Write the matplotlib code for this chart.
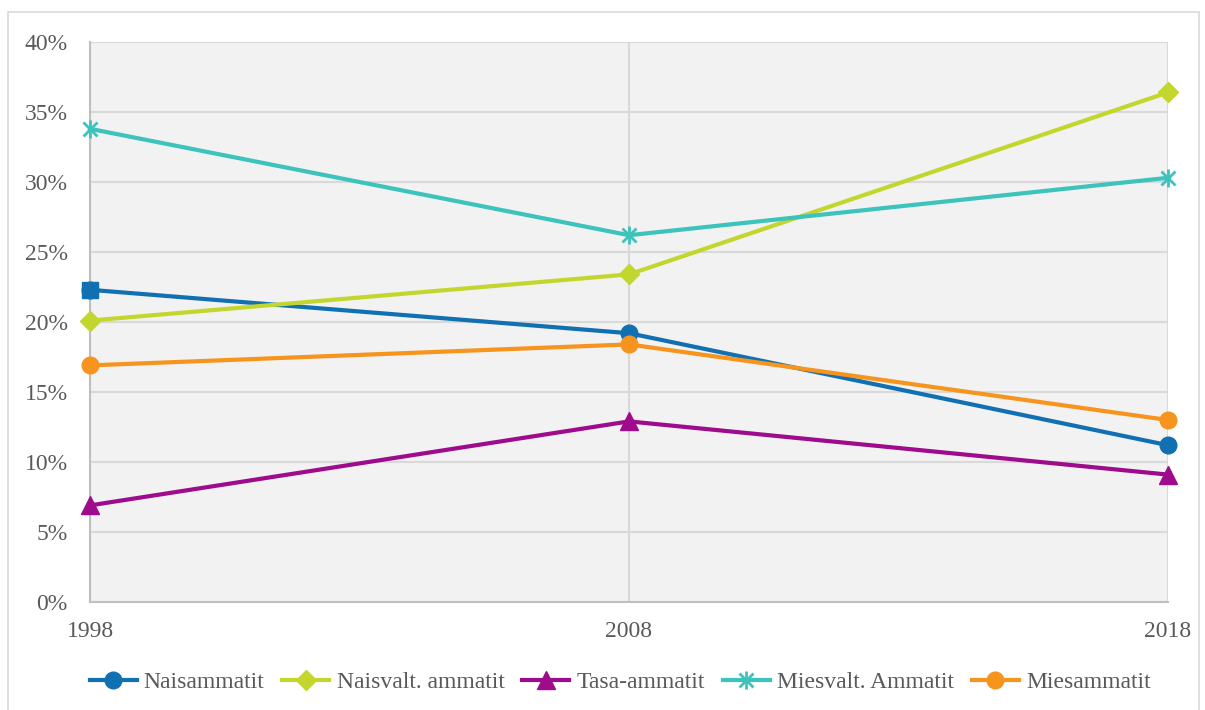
import matplotlib
matplotlib.use("Agg")
import matplotlib.pyplot as plt
from matplotlib.patches import Rectangle
from matplotlib.ticker import FuncFormatter

years = [1998, 2008, 2018]
naisammatit = [22.3, 19.2, 11.2]
naisvalt = [20.1, 23.4, 36.4]
tasa = [6.9, 12.9, 9.1]
miesvalt = [33.8, 26.2, 30.3]
miesammatit = [16.9, 18.4, 13.0]

series = [
    ("Naisammatit", naisammatit, "#1170b2", "o", 12),
    ("Naisvalt. ammatit", naisvalt, "#c3d62e", "D", 10),
    ("Tasa-ammatit", tasa, "#9e0b8d", "^", 13),
    ("Miesvalt. Ammatit", miesvalt, "#3cc3bc", "x", 10),
    ("Miesammatit", miesammatit, "#f7941e", "o", 12),
]

plt.rcParams['font.family'] = ['Liberation Serif', 'DejaVu Serif']
fig = plt.figure(figsize=(12.05, 7.1), dpi=100)
ax = fig.add_axes([90/1205, 1-602/710, (1168-90)/1205, (602-42)/710])
ax.set_facecolor("#f2f2f2")

fig.patches.append(Rectangle((8/1205, -0.01), (1199-8)/1205, 1-12/710+0.01,
                             transform=fig.transFigure, fill=False,
                             edgecolor="#d9d9d9", linewidth=1.2, zorder=0))

handles = []
for name, vals, color, marker, ms in series:
    mew = 2 if marker == "x" else 1
    h, = ax.plot(years, vals, color=color, linewidth=3, marker=marker,
                 markersize=ms, markeredgewidth=mew, markeredgecolor=color,
                 markerfacecolor=color, label=name, zorder=3, clip_on=False)
    if marker == "x":
        v, = ax.plot(years, vals, linestyle="none", marker="|", markersize=13,
                     markeredgewidth=2, color=color, zorder=3, clip_on=False)
        handles.append((h, v))
    else:
        handles.append(h)

# First Naisammatit point drawn as square
ax.plot(years[:1], naisammatit[:1], linestyle="none", marker="s", markersize=11,
        color="#1170b2", zorder=5, clip_on=False)

ax.set_xlim(1998, 2018)
ax.set_ylim(0, 40)
ax.set_xticks(years)
ax.set_yticks(range(0, 41, 5))
ax.yaxis.set_major_formatter(FuncFormatter(lambda v, p: f"{int(v)}%"))
ax.grid(True, color="#d9d9d9", linewidth=1.5, zorder=1)
ax.set_axisbelow(True)
for s in ["top", "right"]:
    ax.spines[s].set_visible(False)
for s in ["left", "bottom"]:
    ax.spines[s].set_color("#bfbfbf")
    ax.spines[s].set_linewidth(1.5)
ax.tick_params(axis="both", length=0, labelsize=17, labelcolor="#595959")
ax.tick_params(axis="y", pad=16)
ax.tick_params(axis="x", pad=14)

fig.legend(handles=handles, labels=[s[0] for s in series], loc="center",
           bbox_to_anchor=(620/1205, 1-682/710),
           ncol=5, frameon=False, fontsize=17, handlelength=2.0,
           columnspacing=0.75, handletextpad=0.3, labelcolor="#595959")

fig.savefig("out.png", dpi=100)
